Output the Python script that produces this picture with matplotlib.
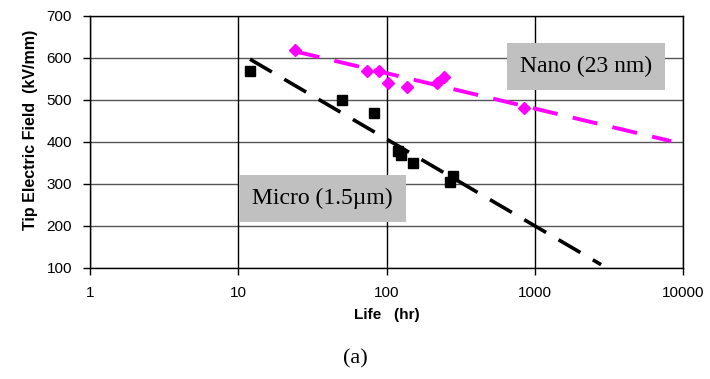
import matplotlib

matplotlib.use("Agg")

import matplotlib.pyplot as plt
import numpy as np


# measured points
micro_life = [12, 50, 82, 120, 125, 150, 270, 280]
micro_field = [570, 500, 470, 378, 370, 350, 305, 320]
nano_life = [24, 74, 89, 103, 138, 218, 243, 846]
nano_field = [620, 570, 568, 540, 530, 540, 555, 480]

# trend lines (start, end)
micro_trend_life = [12, 2800]
micro_trend_field = [597, 108]
nano_trend_life = [24, 8300]
nano_trend_field = [616, 402]

x_ticks = [1, 10, 100, 1000, 10000]
y_ticks = [100, 200, 300, 400, 500, 600, 700]


def main():
    fig = plt.figure(figsize=(7.1, 3.79), dpi=100)
    ax = fig.add_axes([0.1268, 0.2929, 0.8352, 0.665])

    ax.set_xscale("log")
    ax.set_xlim(1, 10000)
    ax.set_ylim(100, 700)

    for y in y_ticks:
        ax.axhline(y, color="#555555", linewidth=1.0, zorder=1)
    for x in x_ticks:
        ax.axvline(x, color="black", linewidth=1.0, zorder=1)

    ax.plot(micro_trend_life, micro_trend_field, color="black", linewidth=2.6,
            linestyle=(0, (7, 4)), zorder=3)
    ax.plot(nano_trend_life, nano_trend_field, color="#FF00FF", linewidth=2.8,
            linestyle=(0, (6.5, 4)), zorder=3)
    ax.plot(micro_life, micro_field, linestyle="none", marker="s", markersize=7.5,
            color="black", zorder=4)
    ax.plot(nano_life, nano_field, linestyle="none", marker="D", markersize=6.5,
            color="#FF00FF", zorder=4)

    ax.set_xticks(x_ticks)
    ax.set_xticklabels([str(v) for v in x_ticks])
    ax.minorticks_off()
    ax.set_yticks(y_ticks)
    ax.tick_params(direction="out", length=5, width=1, labelsize=11,
                   colors="black", pad=8)
    for lab in ax.get_xticklabels() + ax.get_yticklabels():
        lab.set_fontfamily("Liberation Sans")
    for side in ax.spines.values():
        side.set_linewidth(1.0)

    ax.set_xlabel("Life   (hr)", fontsize=11, fontweight="bold",
                  fontfamily="Liberation Sans", labelpad=6)
    ax.set_ylabel("Tip Electric Field  (kV/mm)", fontsize=11.5, fontweight="bold",
                  fontfamily="Liberation Sans")
    ax.yaxis.set_label_coords(-0.087, 0.548)

    box = dict(boxstyle="square,pad=0.55", facecolor="#C0C0C0", edgecolor="none")
    ax.text(0.836, 0.798, "Nano (23 nm)", transform=ax.transAxes, ha="center",
            va="center", fontsize=17, fontfamily="Liberation Serif", bbox=box, zorder=5)
    ax.text(0.392, 0.276, "Micro (1.5µm)", transform=ax.transAxes, ha="center",
            va="center", fontsize=17, fontfamily="Liberation Serif", bbox=box, zorder=5)

    fig.text(0.5, 0.053, "(a)", ha="center", va="center", fontsize=16,
             fontfamily="Liberation Serif")

    fig.savefig("out.png", dpi=100)
    plt.close(fig)


if __name__ == "__main__":
    main()
